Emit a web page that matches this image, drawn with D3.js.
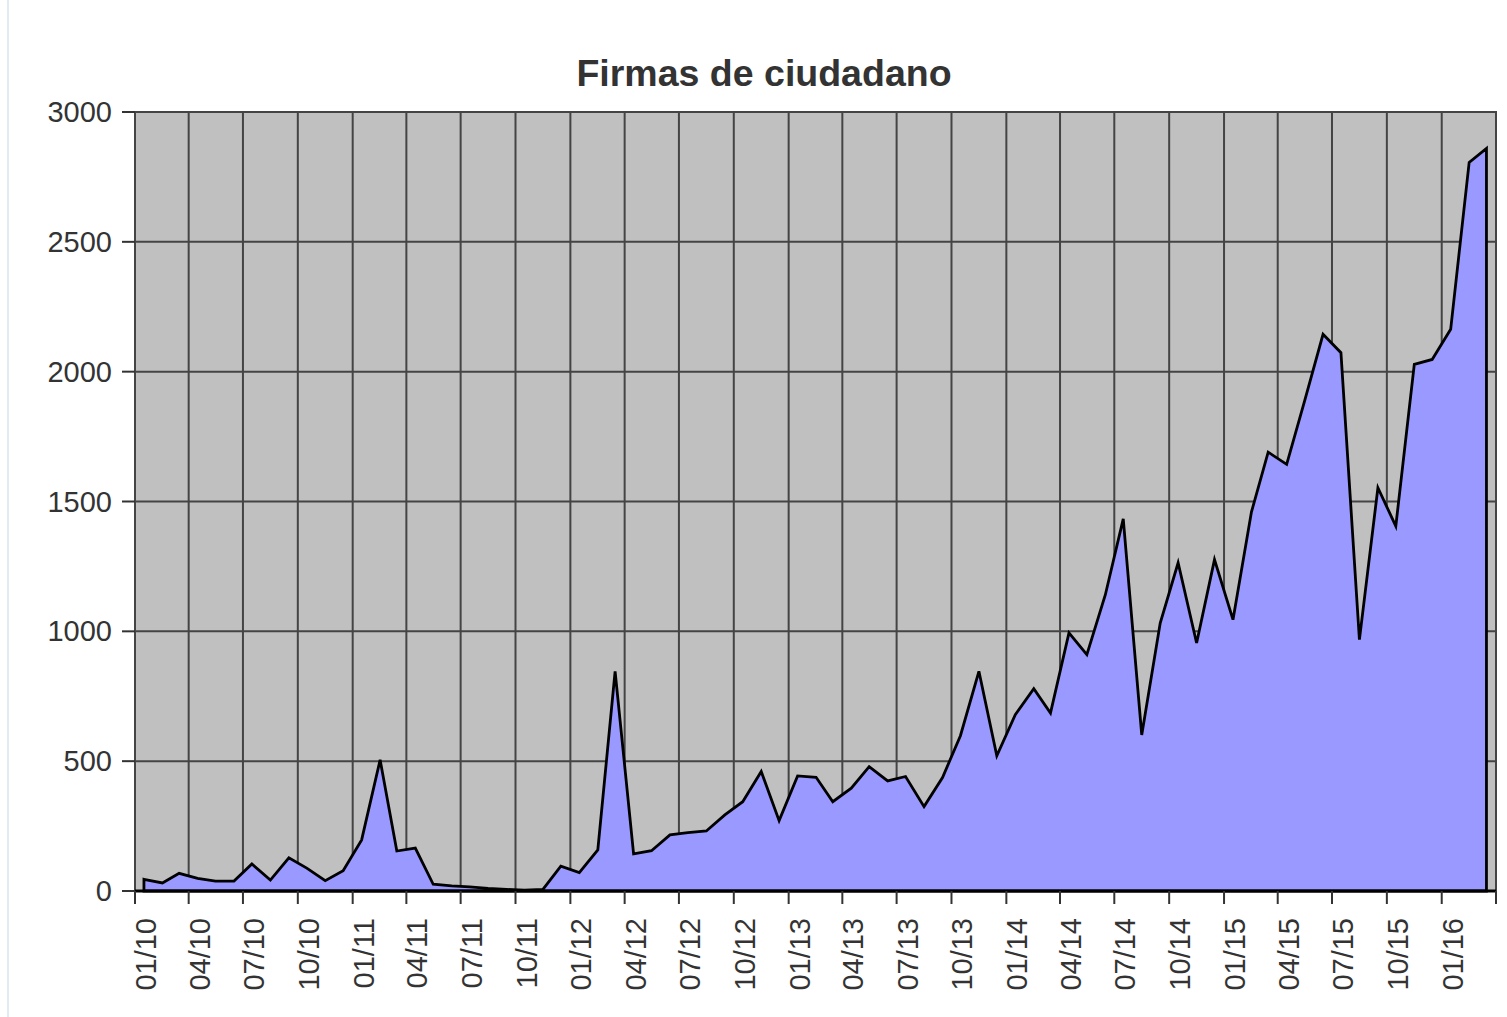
<!DOCTYPE html>
<html>
<head>
<meta charset="utf-8">
<script src="https://cdn.jsdelivr.net/npm/d3@7"></script>
<style>
  body { margin: 0; background: #fff; }
  text { font-family: "Liberation Sans", Arial, sans-serif; fill: #333; }
</style>
</head>
<body>
<div id="chart"></div>
<script>
// monthly data, Jan 2010 - Mar 2016
const months = [
  "2010-01","2010-02","2010-03","2010-04","2010-05","2010-06","2010-07","2010-08","2010-09","2010-10","2010-11","2010-12",
  "2011-01","2011-02","2011-03","2011-04","2011-05","2011-06","2011-07","2011-08","2011-09","2011-10","2011-11","2011-12",
  "2012-01","2012-02","2012-03","2012-04","2012-05","2012-06","2012-07","2012-08","2012-09","2012-10","2012-11","2012-12",
  "2013-01","2013-02","2013-03","2013-04","2013-05","2013-06","2013-07","2013-08","2013-09","2013-10","2013-11","2013-12",
  "2014-01","2014-02","2014-03","2014-04","2014-05","2014-06","2014-07","2014-08","2014-09","2014-10","2014-11","2014-12",
  "2015-01","2015-02","2015-03","2015-04","2015-05","2015-06","2015-07","2015-08","2015-09","2015-10","2015-11","2015-12",
  "2016-01","2016-02","2016-03"
];
const firmas = [
  45, 31, 68, 49, 38, 38, 104, 42, 128, 88, 40, 78,
  197, 505, 154, 165, 26, 20, 16, 10, 6, 3, 6, 96,
  71, 158, 846, 143, 155, 216, 225, 231, 293, 344, 460, 271,
  443, 438, 344, 396, 479, 424, 441, 325, 437, 598, 846, 521,
  679, 779, 685, 994, 910, 1141, 1433, 601, 1032, 1264, 955, 1276,
  1045, 1460, 1690, 1643, 1887, 2144, 2073, 968, 1553, 1405, 2028, 2047,
  2163, 2806, 2860
];
const yTicks = [0, 500, 1000, 1500, 2000, 2500, 3000];
const title = "Firmas de ciudadano";

const width = 1507, height = 1017;
const pLeft = 135, pRight = 1496, pTop = 112, pBottom = 891;

const svg = d3.select("#chart").append("svg")
  .attr("width", width).attr("height", height);

// light page border on the left
svg.append("line").attr("x1", 8).attr("x2", 8).attr("y1", 0).attr("y2", height)
  .attr("stroke", "#e2eaf4").attr("stroke-width", 2);

const parse = d3.timeParse("%Y-%m-%d");
const data = months.map((m, i) => ({date: parse(m + "-16"), value: firmas[i]}));

const x = d3.scaleTime()
  .domain([new Date(2010, 0, 1), new Date(2016, 3, 1)])
  .range([pLeft, pRight]);
const y = d3.scaleLinear().domain([0, 3000]).range([pBottom, pTop]);

const xTicks = d3.timeMonth.every(3).range(new Date(2010, 0, 1), new Date(2016, 3, 2));

// plot background
svg.append("rect")
  .attr("x", pLeft).attr("y", pTop)
  .attr("width", pRight - pLeft).attr("height", pBottom - pTop)
  .attr("fill", "#c0c0c0");

// grid
svg.append("g").selectAll("line").data(xTicks).join("line")
  .attr("x1", d => x(d)).attr("x2", d => x(d))
  .attr("y1", pTop).attr("y2", pBottom)
  .attr("stroke", "#444").attr("stroke-width", 2);
svg.append("g").selectAll("line").data(yTicks).join("line")
  .attr("x1", pLeft).attr("x2", pRight)
  .attr("y1", d => y(d)).attr("y2", d => y(d))
  .attr("stroke", "#444").attr("stroke-width", 2);

// area
const area = d3.area()
  .x(d => x(d.date))
  .y0(y(0))
  .y1(d => y(d.value));
svg.append("path")
  .datum(data)
  .attr("d", area)
  .attr("fill", "#9999ff")
  .attr("stroke", "#000")
  .attr("stroke-width", 2.8)
  .attr("stroke-linejoin", "miter");

// frame
svg.append("rect")
  .attr("x", pLeft).attr("y", pTop)
  .attr("width", pRight - pLeft).attr("height", pBottom - pTop)
  .attr("fill", "none").attr("stroke", "#444").attr("stroke-width", 2);
svg.append("line").attr("x1", pLeft).attr("x2", pRight)
  .attr("y1", pBottom).attr("y2", pBottom)
  .attr("stroke", "#000").attr("stroke-width", 2.8);

// y axis ticks + labels
svg.append("g").selectAll("line").data(yTicks).join("line")
  .attr("x1", pLeft - 13).attr("x2", pLeft)
  .attr("y1", d => y(d)).attr("y2", d => y(d))
  .attr("stroke", "#333").attr("stroke-width", 2);
svg.append("g").selectAll("text").data(yTicks).join("text")
  .attr("x", 112).attr("y", d => y(d))
  .attr("dy", "0.35em")
  .attr("text-anchor", "end")
  .style("font-size", "29px")
  .text(d => d);

// x axis ticks + labels
svg.append("g").selectAll("line").data(xTicks).join("line")
  .attr("x1", d => x(d)).attr("x2", d => x(d))
  .attr("y1", pBottom).attr("y2", pBottom + 13)
  .attr("stroke", "#333").attr("stroke-width", 2);
const fmt = d3.timeFormat("%m/%y");
svg.append("g").selectAll("text").data(xTicks.slice(0, -1)).join("text")
  .attr("transform", d => `translate(${x(d) + 21}, ${pBottom + 27}) rotate(-90)`)
  .attr("text-anchor", "end")
  .style("font-size", "29px")
  .text(d => fmt(d));

// title
svg.append("text")
  .attr("x", 764).attr("y", 86)
  .attr("text-anchor", "middle")
  .style("font-size", "37.5px")
  .style("font-weight", "bold")
  .text(title);
</script>
</body>
</html>
